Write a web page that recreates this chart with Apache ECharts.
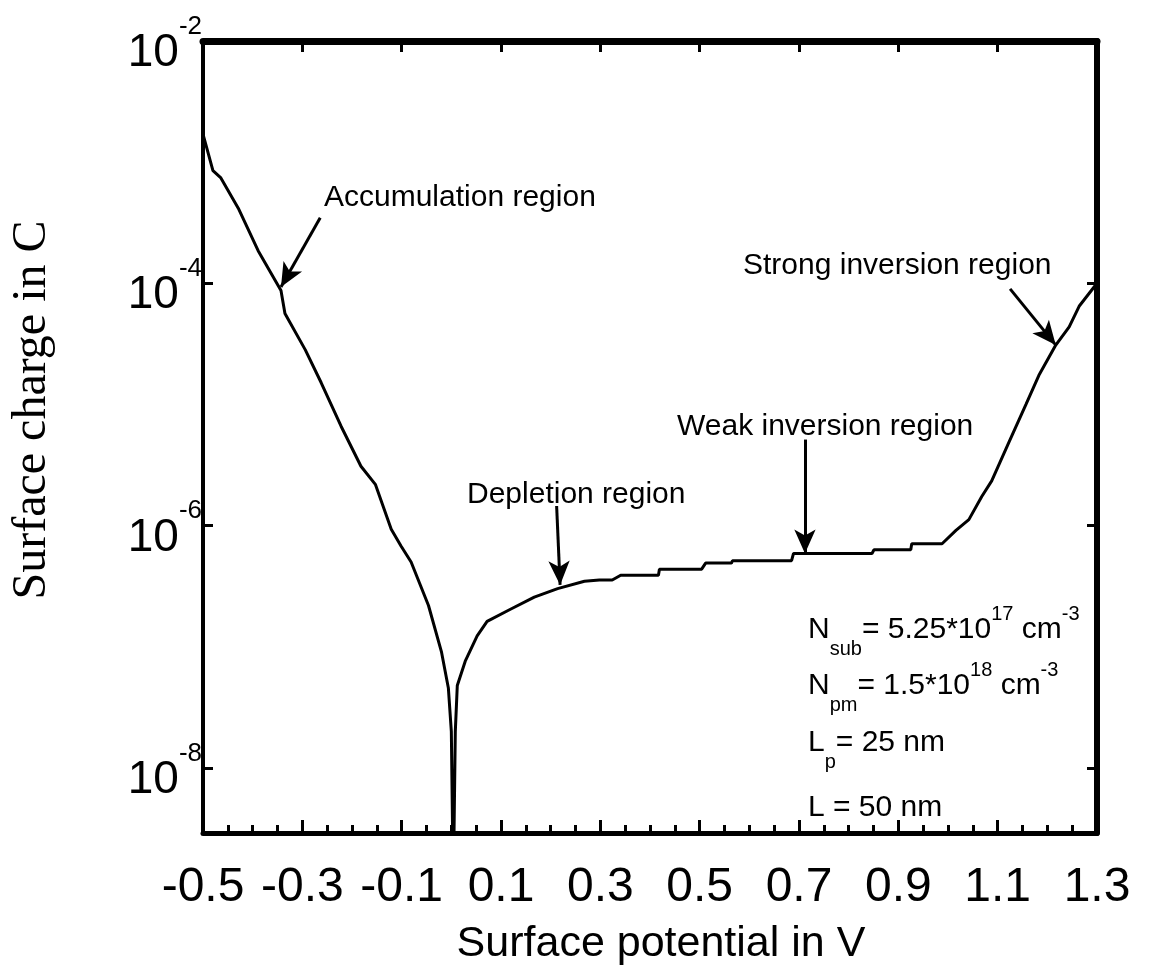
<!DOCTYPE html>
<html>
<head>
<meta charset="utf-8">
<script src="https://cdn.jsdelivr.net/npm/echarts@6/dist/echarts.min.js"></script>
<style>
  html, body { margin: 0; padding: 0; background: #fff; }
  #chart { width: 1149px; height: 971px; }
</style>
</head>
<body>
<div id="chart"></div>
<script>
// Surface potential sweep (V)
const potential = [
  -0.500, -0.480, -0.464, -0.429, -0.389, -0.343, -0.335, -0.294, -0.262, -0.222,
  -0.182, -0.153, -0.121, -0.101, -0.081, -0.046, -0.020, -0.006, 0.000, 0.004,
  0.008, 0.012, 0.028, 0.052, 0.072, 0.119, 0.167, 0.214, 0.268,
  0.298, 0.324, 0.341, 0.417, 0.419, 0.504, 0.512, 0.564, 0.566, 0.685,
  0.689, 0.847, 0.851, 0.925, 0.927, 0.988,
  1.016, 1.042, 1.068, 1.088, 1.123, 1.157, 1.183, 1.217, 1.244, 1.264, 1.300
];
// Surface charge (C) at each potential
const charge = [
  1.70e-3, 8.51e-4, 7.41e-4, 4.17e-4, 1.86e-4, 8.71e-5, 5.62e-5, 2.82e-5, 1.51e-5, 6.61e-6,
  3.09e-6, 2.19e-6, 9.33e-7, 6.76e-7, 5.01e-7, 2.19e-7, 9.12e-8, 4.57e-8, 2.00e-8, 1.0e-9,
  2.00e-8, 4.79e-8, 7.59e-8, 1.23e-7, 1.62e-7, 2.04e-7, 2.57e-7, 3.02e-7, 3.47e-7,
  3.55e-7, 3.55e-7, 3.89e-7, 3.89e-7, 4.37e-7, 4.37e-7, 4.90e-7, 4.90e-7, 5.13e-7, 5.13e-7,
  5.89e-7, 5.89e-7, 6.31e-7, 6.31e-7, 7.08e-7, 7.08e-7,
  9.12e-7, 1.12e-6, 1.74e-6, 2.34e-6, 4.90e-6, 1.00e-5, 1.74e-5, 3.09e-5, 4.37e-5, 6.46e-5, 1.00e-4
];
// Axis ticks and ranges
const xTickValues = [-0.5, -0.3, -0.1, 0.1, 0.3, 0.5, 0.7, 0.9, 1.1, 1.3];
const yTickExponents = [-8, -6, -4, -2];
const xRange = [-0.5, 1.3];
const yRange = [2.9e-9, 1e-2];

const SANS = '"Liberation Sans", Arial, sans-serif';
const SERIF = '"Liberation Serif", "Times New Roman", serif';
const INK = '#000';

const chart = echarts.init(document.getElementById('chart'), null, { renderer: 'canvas' });

function yLabel(v) {
  const e = Math.log10(v);
  const k = Math.round(e);
  if (Math.abs(e - k) > 1e-6 || yTickExponents.indexOf(k) < 0) return '';
  return '{b|10}{s|' + k + '}';
}

// region annotations: arrow tail -> arrow head, in data coordinates
const arrowLines = [
  [{ coord: [-0.264, 3.47e-4] }, { coord: [-0.343, 9.3e-5] }],
  [{ coord: [0.212, 1.45e-6] }, { coord: [0.219, 3.24e-7] }],
  [{ coord: [0.712, 5.13e-6] }, { coord: [0.712, 5.89e-7] }],
  [{ coord: [1.125, 9.0e-5] }, { coord: [1.217, 3.09e-5] }]
];

// parameter block: main text with raised / lowered indices
const paramRich = {
  m: { fontFamily: SANS, fontSize: 30, height: 30, padding: [11, 0, 14, 0], fill: INK },
  sub: { fontFamily: SANS, fontSize: 20, lineHeight: 20, verticalAlign: 'bottom', fill: INK },
  sup: { fontFamily: SANS, fontSize: 20, lineHeight: 20, verticalAlign: 'top', fill: INK }
};

function noteText(x, y, text) {
  return {
    type: 'text', x: x, y: y, silent: true,
    style: { text: text, fontFamily: SANS, fontSize: 30, fill: INK,
             align: 'left', verticalAlign: 'middle' }
  };
}
function paramText(y, text) {
  return {
    type: 'text', x: 808, y: y, silent: true,
    style: { text: text, rich: paramRich, fill: INK, align: 'left', verticalAlign: 'top' }
  };
}

const option = {
  animation: false,
  backgroundColor: '#fff',
  grid: { left: 203, right: 52, top: 41, bottom: 136, containLabel: false },
  xAxis: [
    {
      type: 'value', position: 'bottom', min: xRange[0], max: xRange[1], interval: 0.05,
      axisLine: { show: true, onZero: false, lineStyle: { color: INK, width: 5 } },
      axisTick: { show: true, inside: true, length: 13, customValues: xTickValues, lineStyle: { color: INK, width: 3 } },
      axisLabel: { show: true, customValues: xTickValues, formatter: v => v.toFixed(1),
                   fontFamily: SANS, fontSize: 48, color: INK, margin: 31 },
      splitLine: { show: false },
      name: 'Surface potential in V', nameLocation: 'middle', nameGap: 90,
      nameTextStyle: { fontFamily: SANS, fontSize: 43, color: INK, padding: [0, 0, 0, 22] }
    },
    {
      type: 'value', position: 'bottom', min: xRange[0], max: xRange[1], interval: 0.05,
      axisLine: { show: false },
      axisTick: { show: true, inside: true, length: 8, lineStyle: { color: INK, width: 3 } },
      axisLabel: { show: false }, splitLine: { show: false }
    },
    {
      type: 'value', position: 'top', min: xRange[0], max: xRange[1], interval: 0.05,
      axisLine: { show: true, onZero: false, lineStyle: { color: INK, width: 7 } },
      axisTick: { show: true, inside: true, length: 11, customValues: xTickValues, lineStyle: { color: INK, width: 3 } },
      axisLabel: { show: false }, splitLine: { show: false }
    }
  ],
  yAxis: [
    {
      type: 'log', logBase: 100, position: 'left', min: yRange[0], max: yRange[1],
      axisLine: { show: true, onZero: false, lineStyle: { color: INK, width: 4 } },
      axisTick: { show: true, inside: true, length: 10, lineStyle: { color: INK, width: 3 } },
      minorTick: { show: false },
      axisLabel: {
        show: true, formatter: yLabel, margin: 1, padding: [8, 0, 0, 0],
        rich: {
          b: { fontFamily: SANS, fontSize: 46, height: 46, padding: [17, 0, 0, 0], color: INK },
          s: { fontFamily: SANS, fontSize: 26, lineHeight: 26, verticalAlign: 'top', color: INK }
        }
      },
      splitLine: { show: false }
    },
    {
      type: 'log', logBase: 100, position: 'right', min: yRange[0], max: yRange[1],
      axisLine: { show: true, onZero: false, lineStyle: { color: INK, width: 6 } },
      axisTick: { show: true, inside: true, length: 10, lineStyle: { color: INK, width: 3 } },
      minorTick: { show: false },
      axisLabel: { show: false },
      splitLine: { show: false }
    }
  ],
  series: [
    {
      type: 'line', xAxisIndex: 0, yAxisIndex: 0,
      data: potential.map((x, i) => [x, charge[i]]),
      showSymbol: false, symbol: 'none', clip: true,
      lineStyle: { color: INK, width: 3 },
      itemStyle: { color: INK },
      markLine: {
        silent: true, animation: false,
        symbol: ['none', 'arrow'], symbolSize: [16, 24],
        label: { show: false },
        lineStyle: { color: INK, width: 3, type: 'solid' },
        emphasis: { disabled: true },
        data: arrowLines
      }
    }
  ],
  graphic: [
    {
      type: 'text', x: 32, y: 410, rotation: Math.PI / 2, silent: true,
      style: { text: 'Surface charge in C', fontFamily: SERIF, fontSize: 48, fill: INK,
               align: 'center', verticalAlign: 'middle' }
    },
    noteText(324, 197.5, 'Accumulation region'),
    noteText(743, 266, 'Strong inversion region'),
    noteText(677, 426.5, 'Weak inversion region'),
    noteText(467, 494.5, 'Depletion region'),
    paramText(604, '{m|N}{sub|sub}{m|= 5.25*10}{sup|17}{m| cm}{sup|-3}'),
    paramText(660, '{m|N}{sub|pm}{m|= 1.5*10}{sup|18}{m| cm}{sup|-3}'),
    paramText(717, '{m|L}{sub|p}{m|= 25 nm}'),
    paramText(782, '{m|L = 50 nm}')
  ]
};

chart.setOption(option);
</script>
</body>
</html>
